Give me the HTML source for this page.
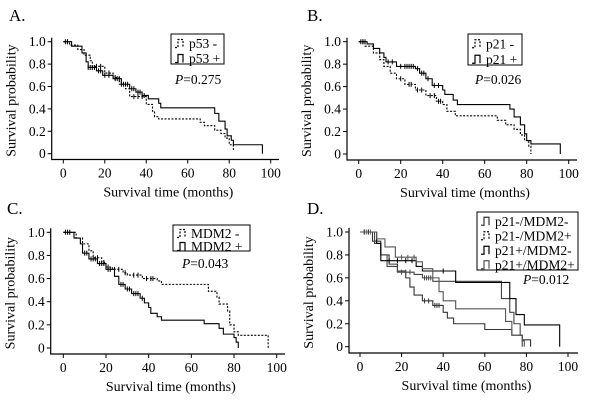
<!DOCTYPE html>
<html><head><meta charset="utf-8"><style>
body{margin:0;background:#fff;}
svg text{font-family:"Liberation Serif",serif;fill:#000;}
</style></head><body>
<svg id="fig" width="600" height="402" viewBox="0 0 600 402"></svg>
<script>
// Panel A
const aNegT=[0,3,7,10,13,14,20,24,27,30,32,40,43,44,46,66,68,73,76,78,80,82];
const aNegS=[1,0.97,0.93,0.88,0.83,0.78,0.72,0.68,0.62,0.58,0.51,0.44,0.38,0.33,0.31,0.28,0.25,0.21,0.18,0.14,0.08,0.03];
const aNegC=[2,16,18,22,25,28,34,36,38];
const aPosT=[0,4,9,11,12,16,19,24,28,32,35,38,41,46,47,73,75,78,79,81,82,96];
const aPosS=[1,0.96,0.9,0.82,0.77,0.74,0.70,0.67,0.62,0.58,0.55,0.52,0.49,0.45,0.41,0.36,0.29,0.22,0.16,0.12,0.08,0];
const aPosC=[1,2,12,13,14,15,17,18,20,22,25,26,27,29,30,31,33,34,36,37,39];
// Panel B
const bNegT=[0,3,7,10,12,15,18,22,27,32,37,40,42,46,66,70,74,77,79,81,82];
const bNegS=[1,0.96,0.9,0.84,0.78,0.72,0.67,0.62,0.57,0.52,0.47,0.44,0.38,0.34,0.30,0.26,0.22,0.17,0.12,0.07,0];
const bNegC=[1,2,20,24,25,28,30,34,36,38,39];
const bPosT=[0,4,7,10,12,13,18,27,29,32,35,40,41,45,47,72,74,77,79,80,82,96];
const bPosS=[1,0.98,0.94,0.9,0.86,0.82,0.78,0.76,0.72,0.67,0.61,0.57,0.53,0.48,0.44,0.40,0.33,0.26,0.18,0.12,0.09,0];
const bPosC=[2,3,14,16,20,22,23,24,25,26,28,30,31,33,36,38];
// Panel C
const cNegT=[0,6,9,12,14,18,20,23,28,30,37,44,46,68,72,73,77,78,80,82,96];
const cNegS=[1,0.95,0.9,0.84,0.78,0.74,0.70,0.68,0.65,0.63,0.60,0.58,0.55,0.49,0.44,0.38,0.32,0.2,0.14,0.11,0];
const cNegC=[2,3,16,19,21,24,26,29,33,35,39,41,42];
const cPosT=[0,5,8,9,12,16,20,24,26,29,32,36,38,40,41,44,46,66,73,75,80,81,82];
const cPosS=[1,0.95,0.9,0.82,0.77,0.73,0.68,0.62,0.55,0.51,0.47,0.43,0.39,0.35,0.30,0.27,0.24,0.21,0.17,0.12,0.09,0.05,0];
const cPosC=[1,2,10,11,13,14,15,17,18,19,21,22,27,28,30,31,33,34,35,37];
// Panel D
const d1T=[0,6,10,14,18,22,24,26,30,35,40,42,45,60,73,78,82];
const d1S=[1,0.92,0.8,0.72,0.66,0.6,0.52,0.45,0.4,0.36,0.3,0.25,0.2,0.15,0.1,0.06,0];
const d1C=[31,33,36,37,38];
const d2T=[0,7,10,13,18,26,30,35,68,72,74,77,78];
const d2S=[1,0.9,0.8,0.7,0.65,0.63,0.6,0.57,0.42,0.3,0.2,0.1,0];
const d2C=[20,22,24,31,32,33,34];
const d3T=[0,8,10,27,30,46,72,75,79,96];
const d3S=[1,0.9,0.75,0.7,0.66,0.56,0.42,0.28,0.19,0];
const d3C=[2,4,14,18,22,25,40];
const d4T=[0,8,12,17,27,30,35,38,40,46,70,73,78,79];
const d4S=[1,0.94,0.87,0.78,0.74,0.68,0.6,0.48,0.4,0.33,0.22,0.1,0.05,0];
const d4C=[3,5,20,23,26];
const xTicks=[0,20,40,60,80,100];
const yTicks=[0,0.2,0.4,0.6,0.8,1.0];
const yTickLabels=["0","0.2","0.4","0.6","0.8","1.0"];

const NS="http://www.w3.org/2000/svg";
const svg=document.getElementById('fig');
function mk(tag,attrs,parent){const e=document.createElementNS(NS,tag);for(const k in attrs)e.setAttribute(k,attrs[k]);(parent||svg).appendChild(e);return e;}
function txt(s,x,y,size,anchor,parent){const t=mk('text',{x:x,y:y,'font-size':size,'text-anchor':anchor||'start'},parent);t.textContent=s;return t;}
function survAt(T,S,t){let v=S[0];for(let i=0;i<T.length;i++){if(T[i]<=t)v=S[i];}return v;}

function panel(cfg){
  const g=mk('g',{});
  
  
  const X=v=>cfg.x0+(cfg.x100-cfg.x0)*v/100;
  const Y=v=>cfg.y0+(cfg.y1-cfg.y0)*v;
  const lab=txt(cfg.label,cfg.lx,cfg.ly,17,'start',g);
  
  
  const ax=mk('path',{d:`M${cfg.ax} ${cfg.y1-4}V${cfg.by}H${cfg.right}`,stroke:'#000',fill:'none','stroke-width':1.2},g);
  
  
  yTicks.forEach((v,i)=>{
    mk('line',{x1:cfg.ax-4,x2:cfg.ax,y1:Y(v),y2:Y(v),stroke:'#000'},g);
    const t=txt(yTickLabels[i],cfg.ax-6,Y(v)+4.5,13.5,'end',g);
    
    
  });
  xTicks.forEach(v=>{
    mk('line',{x1:X(v),x2:X(v),y1:cfg.by,y2:cfg.by+4,stroke:'#000'},g);
    const t=txt(String(v),X(v),cfg.by+18,13.5,'middle',g);
    
    
  });
  const xt=txt('Survival time (months)',(cfg.ax+cfg.right)/2+3,cfg.by+37,14,'middle',g);
  
  
  const yx=cfg.ax-36, yy=(cfg.y1+cfg.by)/2;
  const yt=txt('Survival probability',yx,yy,14,'middle',g);
  yt.setAttribute('transform',`rotate(-90 ${yx} ${yy})`);
  
  
  cfg.series.forEach(s=>{
    let d=`M${X(s.t[0])} ${Y(s.s[0])}`;
    for(let i=1;i<s.t.length;i++){d+=`H${X(s.t[i])}V${Y(s.s[i])}`;}
    const p=mk('path',{d:d,fill:'none',stroke:s.color||'#000','stroke-width':1.1,'stroke-dasharray':s.dash||'none'},g);
    
    
    let cd='';
    (s.c||[]).forEach(ct=>{const yv=Y(survAt(s.t,s.s,ct));cd+=`M${X(ct)} ${yv-2.5}V${yv+2.5}`;});
    if(cd){const cp=mk('path',{d:cd,stroke:s.color||'#000','stroke-width':1,fill:'none'},g);
      
      }
  });
  const L=cfg.legend;
  const box=mk('rect',{x:L.x,y:L.y,width:L.w,height:L.h,fill:'#fff',stroke:'#000','stroke-width':1},g);
  
  
  L.items.forEach((it,i)=>{
    const cy=L.y+L.rowH*(i+0.5)+2;
    mk('path',{d:`M${L.x+4} ${cy+4}h3v-8h5v8`,fill:'none',stroke:it.color||'#000','stroke-width':1.2,'stroke-dasharray':it.dash||'none'},g);
    const t=txt(it.text,L.x+18,cy+4.5,13.5,'start',g);
    
    
  });
  const pt=mk('text',{x:cfg.px,y:cfg.py,'font-size':13.5},g);
  pt.innerHTML='<tspan font-style="italic">P</tspan>'+cfg.ptext;
  
  
}

panel({id:'a',label:'A.',lx:9,ly:21,x0:63.3,x100:270.7,y0:153.7,y1:41.7,ax:51.7,by:159.5,right:279,
  series:[{name:'p53-neg',t:aNegT,s:aNegS,c:aNegC,dash:'2,1.5'},{name:'p53-pos',t:aPosT,s:aPosS,c:aPosC}],
  legend:{x:171,y:34,w:53,h:30,rowH:15,items:[{text:'p53  -',dash:'2,1.5'},{text:'p53  +'}]},
  px:175,py:84,ptext:'=0.275'});
panel({id:'b',label:'B.',lx:307,ly:21,x0:358.7,x100:568.7,y0:154,y1:41.7,ax:347,by:160,right:577,
  series:[{name:'p21-neg',t:bNegT,s:bNegS,c:bNegC,dash:'2,1.5'},{name:'p21-pos',t:bPosT,s:bPosS,c:bPosC}],
  legend:{x:468,y:34,w:54,h:31,rowH:15.5,items:[{text:'p21 -',dash:'2,1.5'},{text:'p21 +'}]},
  px:475,py:84,ptext:'=0.026'});
panel({id:'c',label:'C.',lx:7,ly:214,x0:63.3,x100:276.7,y0:348,y1:232.3,ax:50.7,by:354,right:285,
  series:[{name:'mdm2-neg',t:cNegT,s:cNegS,c:cNegC,dash:'2,1.5'},{name:'mdm2-pos',t:cPosT,s:cPosS,c:cPosC}],
  legend:{x:173,y:225,w:77,h:26,rowH:13,items:[{text:'MDM2 -',dash:'2,1.5'},{text:'MDM2 +'}]},
  px:182,py:268,ptext:'=0.043'});
panel({id:'d',label:'D.',lx:307,ly:214,x0:360,x100:568,y0:346.7,y1:232,ax:349,by:353,right:578,
  series:[{name:'p21neg-mdm2neg',t:d1T,s:d1S,c:d1C,color:'#333'},{name:'p21neg-mdm2pos',t:d2T,s:d2S,c:d2C,color:'#444'},
          {name:'p21pos-mdm2neg',t:d3T,s:d3S,c:d3C,color:'#000'},{name:'p21pos-mdm2pos',t:d4T,s:d4S,c:d4C,color:'#555'}],
  legend:{x:477,y:212,w:101,h:58,rowH:14.5,items:[{text:'p21-/MDM2-',color:'#333'},{text:'p21-/MDM2+',dash:'2,1.5'},{text:'p21+/MDM2-'},{text:'p21+/MDM2+',color:'#555'}]},
  px:523,py:284,ptext:'=0.012'});
</script>
</body></html>
